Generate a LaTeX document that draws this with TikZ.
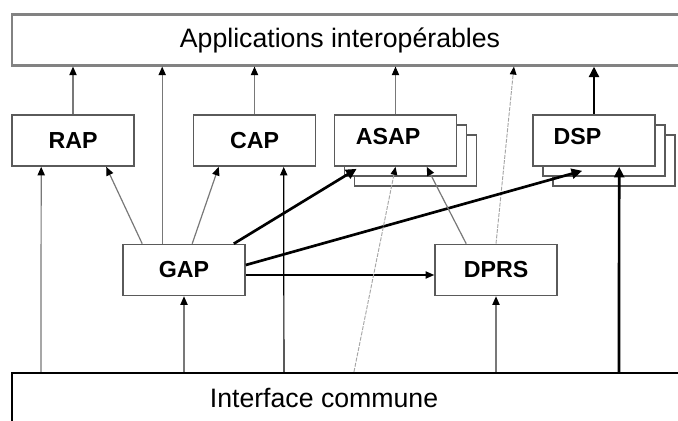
\documentclass[tikz,border=0pt]{standalone}
\usepackage{fontspec}
\setmainfont{Liberation Sans}
\usetikzlibrary{arrows.meta, positioning, calc, shadows}
\definecolor{linegray}{RGB}{120,120,120}
\definecolor{boxgray}{RGB}{90,90,90}
\definecolor{bandgray}{RGB}{130,130,130}
\definecolor{dotgray}{RGB}{165,165,165}

\begin{document}
\begin{tikzpicture}[
    x=0.75pt, y=-0.75pt,
    box/.style={rectangle, draw=boxgray, line width=1.2pt, fill=white, minimum width=91.5pt, minimum height=38.25pt, inner sep=0pt, font=\fontsize{17.4}{20}\selectfont\bfseries},
    stackbox/.style={box, double copy shadow={shadow xshift=7.5pt, shadow yshift=-7.5pt, draw=boxgray, line width=1.2pt, fill=white}},
    boxtext/.style={inner sep=0pt, font=\fontsize{17.4}{20}\selectfont\bfseries},
    band/.style={rectangle, line width=1.6pt, minimum width=508.5pt, inner sep=0pt},
    bandtext/.style={inner sep=0pt, font=\fontsize{20}{24}\selectfont},
    greyarrow/.style={-{Triangle[length=6.5pt, width=5.5pt, color=black]}, draw=linegray, line width=0.9pt},
    blackarrow/.style={-{Triangle[length=6.5pt, width=5.5pt]}, draw=black, line width=0.9pt},
    heavyarrow/.style={-{Triangle[length=8pt, width=7.5pt]}, draw=black, line width=2pt},
    faintarrow/.style={-{Triangle[length=6pt, width=5pt, color=black]}, draw=dotgray, line width=0.7pt, dash pattern=on 3pt off 1pt}
]
\useasboundingbox (0,0) rectangle (678,421);

\node[band, draw=bandgray, minimum height=38.25pt] (apps) at (351,40) {};
\node[bandtext] (appslabel) at ($(apps.center)+(-11,0)$) {Applications interopérables};
\node[band, draw=black, minimum height=37.5pt] (iface) at (351,398) {};
\node[bandtext] (ifacelabel) at ($(iface.center)+(-27,0)$) {Interface commune};

\node[box] (rap) at (73,140.5) {RAP};
\node[box] (cap) at (254.5,140.5) {CAP};
\node[stackbox] (asap) at (395.5,140.5) {};
\node[boxtext] (asaplabel) at ($(asap.center)+(-7.5,-3.5)$) {ASAP};
\node[stackbox] (dsp) at (594,140.5) {};
\node[boxtext] (dsplabel) at ($(dsp.center)+(-16.5,-3.5)$) {DSP};
\node[box] (gap) at (184,270) {GAP};
\node[box] (dprs) at (496,270) {DPRS};
\coordinate (gapup) at ($(gap.north west)+(40,0)$);

\draw[greyarrow] (rap) -- (rap |- apps.south);
\draw[greyarrow] (gapup) -- (gapup |- apps.south);
\draw[greyarrow] (cap) -- (cap |- apps.south);
\draw[greyarrow] (asap) -- (asap |- apps.south);
\draw[faintarrow] (dprs.north) -- ($(apps.south west)+(503,0)$);
\draw[heavyarrow] (dsp) -- (dsp |- apps.south);

\draw[greyarrow] ($(iface.north west)+(30,0)$) -- ($(rap.south west)+(30,0)$);
\draw[greyarrow] ($(gap.north west)+(20,0)$) -- ($(rap.south west)+(95,0)$);
\draw[greyarrow] ($(gap.north west)+(70,0)$) -- ($(cap.south west)+(26,0)$);
\draw[blackarrow] ($(iface.north west)+(273,0)$) -- ($(cap.south west)+(91,0)$);
\draw[heavyarrow] ($(gap.north east)+(-12,0)$) -- ($(asap.south west)+(23,2)$);
\draw[heavyarrow] ($(gap.east)+(0,-5)$) -- ($(dsp.south west)+(50,4)$);
\draw[blackarrow] ($(gap.east)+(0,5)$) -- ($(dprs.west)+(0,5)$);
\draw[greyarrow] (gap.south |- iface.north) -- (gap);
\draw[greyarrow] (dprs.south |- iface.north) -- (dprs);
\draw[heavyarrow] ($(iface.north west)+(608,0)$) -- ($(dsp.south west)+(87,0)$);
\draw[faintarrow] ($(iface.north west)+(343,0)$) -- (asap.south);
\draw[greyarrow] ($(dprs.north west)+(32,0)$) -- ($(asap.south west)+(93,0)$);
\end{tikzpicture}
\end{document}
